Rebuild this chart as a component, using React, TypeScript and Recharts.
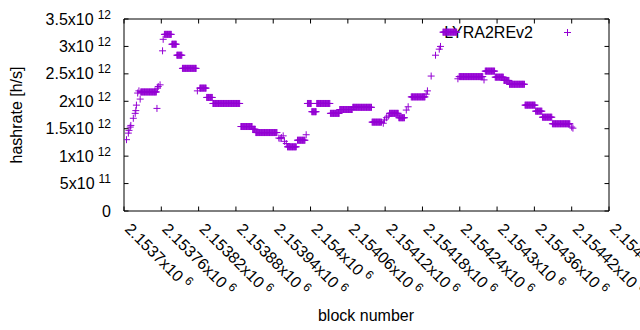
import React from 'react';
import { ScatterChart, Scatter, XAxis, YAxis, Customized } from 'recharts';

// Runs of consecutive blocks sharing the same hashrate estimate (single blocks have first === last)
const runFirstBlock = [
  2153704, 2153707, 2153708, 2153710, 2153711, 2153715, 2153718, 2153719, 2153720, 2153722,
  2153724, 2153726, 2153727, 2153753, 2153754, 2153755, 2153758, 2153762, 2153763, 2153765,
  2153777, 2153785, 2153794, 2153818, 2153822, 2153833, 2153843, 2153888, 2153907, 2153912,
  2153949, 2153951, 2153953, 2153956, 2153958, 2153961, 2153963, 2153979, 2153993, 2153995,
  2154002, 2154010, 2154032, 2154047, 2154068, 2154099, 2154117, 2154119, 2154122, 2154125,
  2154127, 2154142, 2154154, 2154157, 2154162, 2154186, 2154188, 2154194, 2154201, 2154207,
  2154209, 2154213, 2154237, 2154239, 2154279, 2154281, 2154297, 2154311, 2154320, 2154345,
  2154362, 2154373, 2154389, 2154420, 2154422,
];
const runLastBlock = [
  2153704, 2153707, 2153708, 2153710, 2153711, 2153715, 2153718, 2153719, 2153720, 2153722,
  2153724, 2153726, 2153752, 2153753, 2153754, 2153755, 2153758, 2153762, 2153763, 2153776,
  2153784, 2153793, 2153816, 2153818, 2153832, 2153842, 2153886, 2153906, 2153911, 2153946,
  2153949, 2153951, 2153953, 2153956, 2153958, 2153961, 2153977, 2153991, 2153993, 2154001,
  2154009, 2154031, 2154046, 2154067, 2154098, 2154114, 2154117, 2154119, 2154122, 2154125,
  2154141, 2154151, 2154154, 2154157, 2154184, 2154186, 2154188, 2154194, 2154201, 2154207,
  2154209, 2154235, 2154237, 2154277, 2154279, 2154296, 2154310, 2154319, 2154344, 2154361,
  2154372, 2154388, 2154417, 2154420, 2154422,
];
const runHashrate = [
  1.30e12, 1.42e12, 1.47e12, 1.53e12, 1.56e12, 1.69e12, 1.78e12, 1.83e12, 1.93e12, 2.15e12,
  2.19e12, 2.04e12, 2.17e12, 1.87e12, 2.24e12, 2.27e12, 2.30e12, 2.92e12, 3.13e12, 3.22e12,
  3.04e12, 2.84e12, 2.60e12, 2.19e12, 2.24e12, 2.07e12, 1.96e12, 1.54e12, 1.49e12, 1.43e12,
  1.33e12, 1.32e12, 1.34e12, 1.37e12, 1.27e12, 1.23e12, 1.17e12, 1.29e12, 1.39e12, 1.96e12,
  1.81e12, 1.96e12, 1.78e12, 1.85e12, 1.89e12, 1.62e12, 1.60e12, 1.66e12, 1.70e12, 1.73e12,
  1.78e12, 1.70e12, 1.84e12, 1.90e12, 2.08e12, 2.13e12, 2.19e12, 2.46e12, 2.84e12, 2.95e12,
  3.00e12, 3.26e12, 2.41e12, 2.45e12, 2.39e12, 2.55e12, 2.44e12, 2.38e12, 2.31e12, 1.93e12,
  1.82e12, 1.71e12, 1.59e12, 1.53e12, 1.51e12,
];

const xTickValues = [
  2153700, 2153760, 2153820, 2153880, 2153940, 2154000, 2154060,
  2154120, 2154180, 2154240, 2154300, 2154360, 2154420, 2154480,
];
const xTickMantissas = [
  '2.1537', '2.15376', '2.15382', '2.15388', '2.15394', '2.154', '2.15406',
  '2.15412', '2.15418', '2.15424', '2.1543', '2.15436', '2.15442', '2.15448',
];
const xTickExponent = '6';

const yTickValues = [0, 5e11, 1e12, 1.5e12, 2e12, 2.5e12, 3e12, 3.5e12];
const yTickMantissas = ['0', '5', '1', '1.5', '2', '2.5', '3', '3.5'];
const yTickExponents = ['', '11', '12', '12', '12', '12', '12', '12'];

const seriesName = 'LYRA2REv2';
const xTitle = 'block number';
const yTitle = 'hashrate [h/s]';

const COLOR = '#9400d3';
const FONT = '"Liberation Sans", Arial, Helvetica, sans-serif';
const FS = 16;
const SUP = 12;

const points: { block: number; hashrate: number }[] = [];
runFirstBlock.forEach((first, i) => {
  for (let b = first; b <= runLastBlock[i]; b++) {
    points.push({ block: b, hashrate: runHashrate[i] });
  }
});

const Plus = (props: any) => {
  const { cx, cy } = props;
  if (cx == null || cy == null) return <g />;
  return (
    <path
      d={`M${cx - 3.5},${cy}h7M${cx},${cy - 3.5}v7`}
      stroke={COLOR}
      strokeWidth={1}
      fill="none"
    />
  );
};

const BottomTick = (props: any) => {
  const { x, y, payload } = props;
  const i = xTickValues.indexOf(payload.value);
  const tx = x;
  const ty = y + 19;
  return (
    <g>
      <line x1={x} y1={y} x2={x} y2={y - 4.5} stroke="#000" strokeWidth={1} />
      <text
        x={tx}
        y={ty}
        transform={`rotate(45 ${tx} ${ty})`}
        fontFamily={FONT}
        fontSize={FS}
        fill="#000"
        textAnchor="start"
      >
        {xTickMantissas[i]}x10
        <tspan dx={4} dy={-6} fontSize={SUP}>{xTickExponent}</tspan>
      </text>
    </g>
  );
};

const TopTick = (props: any) => {
  const { x, y } = props;
  return <line x1={x} y1={y} x2={x} y2={y + 4.5} stroke="#000" strokeWidth={1} />;
};

const LeftTick = (props: any) => {
  const { x, y, payload } = props;
  const i = yTickValues.indexOf(payload.value);
  const exp = yTickExponents[i];
  return (
    <g>
      <line x1={x} y1={y} x2={x + 4.5} y2={y} stroke="#000" strokeWidth={1} />
      <text x={x - 13} y={y + 5.5} textAnchor="end" fontFamily={FONT} fontSize={FS} fill="#000">
        {exp ? `${yTickMantissas[i]}x10` : yTickMantissas[i]}
        {exp ? <tspan dx={4} dy={-6} fontSize={SUP}>{exp}</tspan> : null}
      </text>
    </g>
  );
};

const RightTick = (props: any) => {
  const { x, y } = props;
  return <line x1={x} y1={y} x2={x - 4.5} y2={y} stroke="#000" strokeWidth={1} />;
};

const Extras = () => (
  <g fontFamily={FONT} fontSize={FS} fill="#000">
    <text x={22} y={115} transform="rotate(-90 22 115)" textAnchor="middle">{yTitle}</text>
    <text x={366} y={321} textAnchor="middle">{xTitle}</text>
    <text x={533} y={37.5} textAnchor="end">{seriesName}</text>
    <path d="M564,32.5h7M567.5,29v7" stroke={COLOR} strokeWidth={1} fill="none" />
  </g>
);

export default function App() {
  return (
    <div style={{ position: 'absolute', left: 0, top: 0, width: 640, height: 330, background: '#fff' }}>
      <ScatterChart width={640} height={330} margin={{ top: 0, right: 0, bottom: 0, left: 0 }}>
        <XAxis
          xAxisId="b"
          dataKey="block"
          type="number"
          orientation="bottom"
          domain={[2153700, 2154480]}
          ticks={xTickValues}
          interval={0}
          height={119}
          tickSize={0}
          tickMargin={0}
          tickLine={false}
          axisLine={{ stroke: '#000', strokeWidth: 1 }}
          tick={<BottomTick />}
          allowDataOverflow
        />
        <XAxis
          xAxisId="t"
          dataKey="block"
          type="number"
          orientation="top"
          domain={[2153700, 2154480]}
          ticks={xTickValues}
          interval={0}
          height={19}
          tickSize={0}
          tickMargin={0}
          tickLine={false}
          axisLine={{ stroke: '#000', strokeWidth: 1 }}
          tick={<TopTick />}
          allowDataOverflow
        />
        <YAxis
          yAxisId="l"
          dataKey="hashrate"
          type="number"
          orientation="left"
          domain={[0, 3.5e12]}
          ticks={yTickValues}
          interval={0}
          width={124}
          tickSize={0}
          tickMargin={0}
          tickLine={false}
          axisLine={{ stroke: '#000', strokeWidth: 1 }}
          tick={<LeftTick />}
          allowDataOverflow
        />
        <YAxis
          yAxisId="r"
          dataKey="hashrate"
          type="number"
          orientation="right"
          domain={[0, 3.5e12]}
          ticks={yTickValues}
          interval={0}
          width={31}
          tickSize={0}
          tickMargin={0}
          tickLine={false}
          axisLine={{ stroke: '#000', strokeWidth: 1 }}
          tick={<RightTick />}
          allowDataOverflow
        />
        <Scatter
          name={seriesName}
          data={points}
          xAxisId="b"
          yAxisId="l"
          dataKey="hashrate"
          shape={<Plus />}
          isAnimationActive={false}
        />
        <Scatter
          data={[]}
          xAxisId="t"
          yAxisId="r"
          dataKey="hashrate"
          isAnimationActive={false}
        />
        <Customized component={<Extras />} />
      </ScatterChart>
    </div>
  );
}
